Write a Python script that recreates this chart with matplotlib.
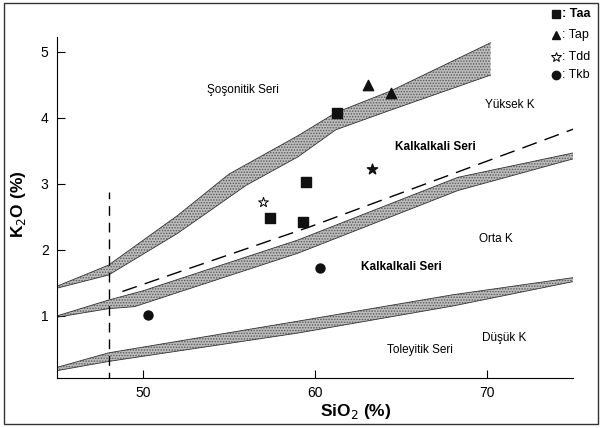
import numpy as np
import matplotlib
matplotlib.use('Agg')
import matplotlib.pyplot as plt
from matplotlib.patches import Rectangle

plt.rcParams['font.family'] = ['Liberation Sans', 'DejaVu Sans']
plt.rcParams['hatch.color'] = '#5a5a5a'
plt.rcParams['hatch.linewidth'] = 0.7

# boundary bands (SiO2, K2O) - upper and lower edges
shos_up_x = [45.0, 48.0, 52.0, 55.0, 59.0, 61.2, 64.4, 70.2]
shos_up_y = [1.45, 1.77, 2.52, 3.15, 3.73, 4.08, 4.41, 5.14]
shos_lo_x = [45.0, 48.0, 52.0, 56.0, 59.0, 61.2, 64.4, 70.2]
shos_lo_y = [1.42, 1.62, 2.25, 2.98, 3.41, 3.82, 4.12, 4.65]

highk_up_x = [45.0, 48.0, 50.0, 59.0, 68.3, 75.0]
highk_up_y = [1.00, 1.24, 1.38, 2.15, 3.10, 3.47]
highk_lo_x = [45.0, 48.0, 49.5, 59.0, 68.3, 75.0]
highk_lo_y = [0.98, 1.11, 1.14, 1.95, 2.90, 3.38]

lowk_up_x = [45.0, 48.0, 59.0, 68.0, 75.0]
lowk_up_y = [0.22, 0.44, 0.92, 1.32, 1.58]
lowk_lo_x = [45.0, 48.0, 59.0, 68.0, 75.0]
lowk_lo_y = [0.17, 0.31, 0.74, 1.15, 1.52]

dash_x = [48.8, 59.7, 75.0]
dash_y = [1.37, 2.35, 3.83]

# samples
taa_x = [61.3, 57.4, 59.5, 59.3]
taa_y = [4.08, 2.48, 3.03, 2.43]
tap_x = [63.1, 64.4]
tap_y = [4.50, 4.38]
tdd_open_x = [57.0]
tdd_open_y = [2.72]
tdd_fill_x = [63.3]
tdd_fill_y = [3.22]
tkb_x = [50.3, 60.3]
tkb_y = [1.01, 1.73]

fig = plt.figure(figsize=(6.03, 4.28), dpi=100)
ax = fig.add_axes([0.0945, 0.117, 0.856, 0.797])

for ux, uy, lx, ly in [(shos_up_x, shos_up_y, shos_lo_x, shos_lo_y),
                       (highk_up_x, highk_up_y, highk_lo_x, highk_lo_y),
                       (lowk_up_x, lowk_up_y, lowk_lo_x, lowk_lo_y)]:
    px = np.concatenate([ux, lx[::-1]])
    py = np.concatenate([uy, ly[::-1]])
    ax.fill(px, py, facecolor='#bcbcbc', hatch='......', edgecolor='#5a5a5a', linewidth=0)
    ax.plot(ux, uy, color='#333333', lw=0.6)
    ax.plot(lx, ly, color='#333333', lw=0.6)

ax.plot(dash_x, dash_y, color='black', lw=1.0, dashes=(11, 6))
ax.plot([48, 48], [0, 2.88], color='black', lw=1.0, dashes=(7, 5))

ax.scatter(taa_x, taa_y, marker='s', s=42, color='#111111', zorder=5)
ax.scatter(tap_x, tap_y, marker='^', s=55, color='#111111', zorder=5)
ax.scatter(tdd_open_x, tdd_open_y, marker='*', s=55, facecolor='white', edgecolor='black', linewidths=0.7, zorder=5)
ax.scatter(tdd_fill_x, tdd_fill_y, marker='*', s=60, color='#111111', zorder=5)
ax.scatter(tkb_x, tkb_y, marker='o', s=42, color='#111111', zorder=5)

# field names
ax.text(55.8, 4.42, 'Şoşonitik Seri', fontsize=8.5, ha='center', va='center')
ax.text(71.3, 4.20, 'Yüksek K', fontsize=8.5, ha='center', va='center')
ax.text(67.0, 3.56, 'Kalkalkali Seri', fontsize=8.5, ha='center', va='center', fontweight='bold')
ax.text(70.5, 2.17, 'Orta K', fontsize=8.5, ha='center', va='center')
ax.text(65.0, 1.74, 'Kalkalkali Seri', fontsize=8.5, ha='center', va='center', fontweight='bold')
ax.text(71.0, 0.67, 'Düşük K', fontsize=8.5, ha='center', va='center')
ax.text(66.1, 0.48, 'Toleyitik Seri', fontsize=8.5, ha='center', va='center')

ax.set_xlim(45, 75)
ax.set_ylim(0.06, 5.23)
ax.set_xticks([50, 60, 70])
ax.set_yticks([1, 2, 3, 4, 5])
ax.tick_params(direction='in', length=6, width=0.8, labelsize=10)
ax.tick_params(axis='x', pad=6)
ax.tick_params(axis='y', pad=6)
ax.spines['top'].set_visible(False)
ax.spines['right'].set_visible(False)
ax.set_xlabel('SiO$_2$ (%)', fontsize=12.5, fontweight='bold')
ax.set_ylabel('K$_2$O (%)', fontsize=12.5, fontweight='bold')
ax.xaxis.set_label_coords(0.578, -0.07)
ax.yaxis.set_label_coords(-0.057, 0.51)

# legend in the upper right corner
leg_y = [0.967, 0.918, 0.867, 0.825]
leg_lab = [': Taa', ': Tap', ': Tdd', ': Tkb']
leg_mk = ['s', '^', '*', 'o']
for yy, lab, mk in zip(leg_y, leg_lab, leg_mk):
    if mk == '*':
        fig.lines.append(plt.Line2D([0.922], [yy], marker=mk, markersize=7, markerfacecolor='white',
                                    markeredgecolor='black', markeredgewidth=0.7, transform=fig.transFigure))
    else:
        fig.lines.append(plt.Line2D([0.922], [yy], marker=mk, markersize=6, color='#111111',
                                    transform=fig.transFigure))
    fig.text(0.932, yy, lab, fontsize=9, va='center', ha='left',
             fontweight='bold' if lab == ': Taa' else 'normal')

fig.patches.append(Rectangle((0.007, 0.009), 0.985, 0.984, transform=fig.transFigure,
                             fill=False, edgecolor='#333333', lw=1.0))

fig.savefig('out.png', dpi=100)
